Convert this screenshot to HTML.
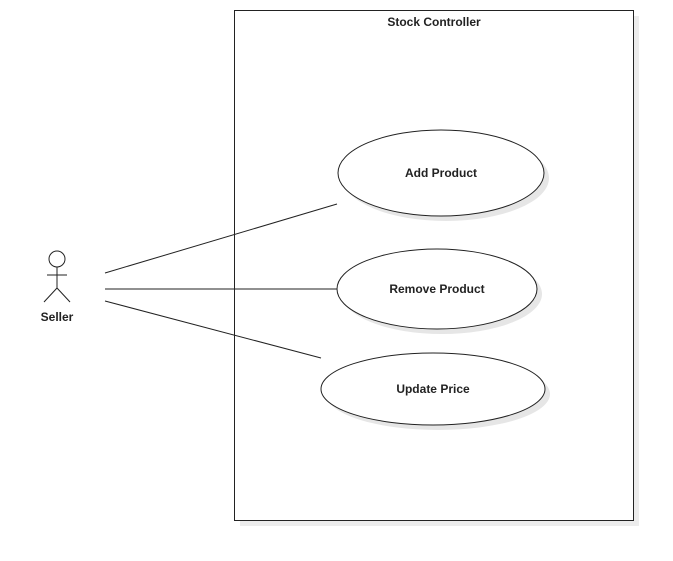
<!DOCTYPE html>
<html><head><style>body{margin:0;background:#fff}svg{display:block}</style></head><body>
<svg width="673" height="561" xmlns="http://www.w3.org/2000/svg" font-family="Liberation Sans, Arial, sans-serif" font-weight="bold" font-size="12" fill="#222">
<rect x="240" y="16" width="399" height="510" fill="#ececec"/>
<rect x="234.5" y="10.5" width="399" height="510" fill="#fff" stroke="#222"/>
<text x="434" y="26" text-anchor="middle">Stock Controller</text>
<ellipse cx="446" cy="178" rx="103" ry="43" fill="#e6e6e6"/>
<ellipse cx="441" cy="173" rx="103" ry="43" fill="#fff" stroke="#222"/>
<text x="441" y="177" text-anchor="middle">Add Product</text>
<ellipse cx="442" cy="294" rx="100" ry="40" fill="#e6e6e6"/>
<ellipse cx="437" cy="289" rx="100" ry="40" fill="#fff" stroke="#222"/>
<text x="437" y="293" text-anchor="middle">Remove Product</text>
<ellipse cx="438" cy="394" rx="112" ry="36" fill="#e6e6e6"/>
<ellipse cx="433" cy="389" rx="112" ry="36" fill="#fff" stroke="#222"/>
<text x="433" y="393" text-anchor="middle">Update Price</text>
<g stroke="#222" fill="none">
<line x1="105" y1="273" x2="337" y2="204"/>
<line x1="105" y1="289" x2="337" y2="289"/>
<line x1="105" y1="301" x2="321" y2="358"/>
<circle cx="57" cy="259" r="8" fill="#fff"/>
<line x1="57" y1="267" x2="57" y2="288"/>
<line x1="47" y1="275" x2="67" y2="275"/>
<line x1="57" y1="288" x2="44" y2="302"/>
<line x1="57" y1="288" x2="70" y2="302"/>
</g>
<text x="57" y="321" text-anchor="middle">Seller</text>
</svg>
</body></html>
